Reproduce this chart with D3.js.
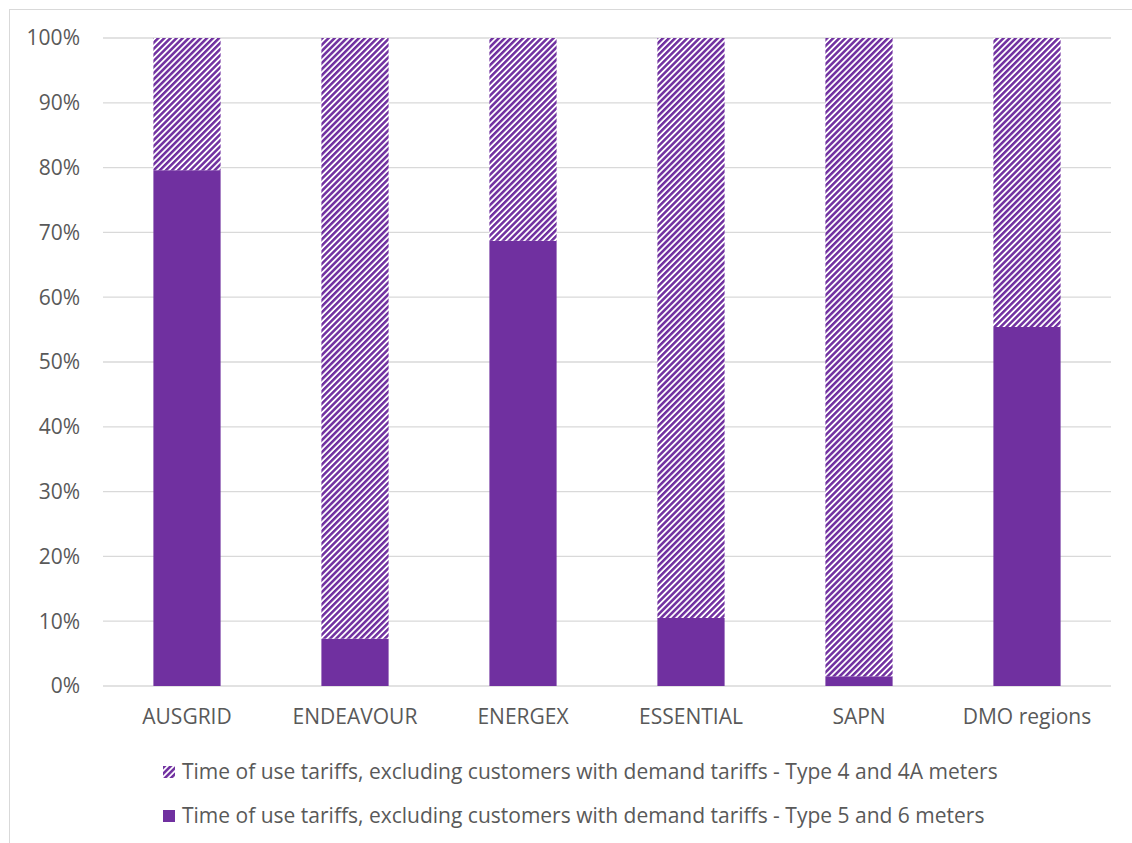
<!DOCTYPE html>
<html>
<head>
<meta charset="utf-8">
<script src="https://cdn.jsdelivr.net/npm/d3@7"></script>
<style>
  body { margin: 0; background: #fff; }
  text { font-family: "Open Sans", "Liberation Sans", sans-serif; fill: #595959; }
</style>
</head>
<body>
<div class="chart"></div>
<script>
const regions = ["AUSGRID", "ENDEAVOUR", "ENERGEX", "ESSENTIAL", "SAPN", "DMO regions"];
// share of type 5 and 6 meters (solid), rest is type 4 / 4A (hatched)
const type56 = [0.796, 0.073, 0.687, 0.105, 0.015, 0.554];
const type4 = [0.204, 0.927, 0.313, 0.895, 0.985, 0.446];
const yTicks = [0, 0.1, 0.2, 0.3, 0.4, 0.5, 0.6, 0.7, 0.8, 0.9, 1];
const legendNames = [
  "Time of use tariffs, excluding customers with demand tariffs - Type 4 and 4A meters",
  "Time of use tariffs, excluding customers with demand tariffs - Type 5 and 6 meters"
];

const W = 1132, H = 843;
const purple = "#7030a0";

const svg = d3.select(".chart")
    .append("svg")
    .attr("width", W)
    .attr("height", H);

const defs = svg.append("defs");
const pat = defs.append("pattern")
    .attr("id", "hatch")
    .attr("patternUnits", "userSpaceOnUse")
    .attr("width", 4.3)
    .attr("height", 4.3)
    .attr("patternTransform", "rotate(45)");
pat.append("rect").attr("width", 4.3).attr("height", 4.3).attr("fill", "#fff");
pat.append("rect").attr("width", 2.5).attr("height", 4.3).attr("fill", purple);

// outer chart border
svg.append("rect")
    .attr("x", 9.5).attr("y", 9.5)
    .attr("width", W + 10).attr("height", H + 10)
    .attr("fill", "none")
    .attr("stroke", "#d9d9d9");

const x = d3.scaleBand()
    .domain(regions)
    .range([103, 1111])
    .paddingInner(0.6)
    .paddingOuter(0.3);

const y = d3.scaleLinear()
    .domain([0, 1])
    .range([686, 38]);

// gridlines
svg.append("g")
    .selectAll("line")
    .data(yTicks)
    .enter()
    .append("line")
    .attr("x1", 103).attr("x2", 1111)
    .attr("y1", d => y(d)).attr("y2", d => y(d))
    .attr("stroke", "#d9d9d9")
    .attr("stroke-width", 1.3);

// y labels
svg.append("g")
    .selectAll("text")
    .data(yTicks)
    .enter()
    .append("text")
    .attr("x", 80)
    .attr("y", d => y(d))
    .attr("dy", "0.35em")
    .attr("text-anchor", "end")
    .style("font-size", "21px")
    .text(d => d3.format(".0%")(d));

// solid bars
svg.append("g")
    .selectAll("rect")
    .data(regions)
    .enter()
    .append("rect")
    .attr("x", d => x(d))
    .attr("width", x.bandwidth())
    .attr("y", (d, i) => y(type56[i]))
    .attr("height", (d, i) => y(0) - y(type56[i]))
    .attr("fill", purple);

// hatched bars
svg.append("g")
    .selectAll("rect")
    .data(regions)
    .enter()
    .append("rect")
    .attr("x", d => x(d))
    .attr("width", x.bandwidth())
    .attr("y", (d, i) => y(type56[i] + type4[i]))
    .attr("height", (d, i) => y(type56[i]) - y(type56[i] + type4[i]))
    .attr("fill", "url(#hatch)");

// x labels
svg.append("g")
    .selectAll("text")
    .data(regions)
    .enter()
    .append("text")
    .attr("x", d => x(d) + x.bandwidth() / 2)
    .attr("y", 717)
    .attr("dy", "0.35em")
    .attr("text-anchor", "middle")
    .style("font-size", "21px")
    .text(d => d);

// legend
const leg = svg.append("g")
    .selectAll("g")
    .data(legendNames)
    .enter()
    .append("g")
    .attr("transform", (d, i) => "translate(163," + (766 + i * 44) + ")");

leg.append("rect")
    .attr("width", 12).attr("height", 12)
    .attr("fill", (d, i) => i === 0 ? "url(#hatch)" : purple);

leg.append("text")
    .attr("x", 19)
    .attr("y", 6)
    .attr("dy", "0.35em")
    .style("font-size", "21px")
    .text(d => d);
</script>
</body>
</html>
